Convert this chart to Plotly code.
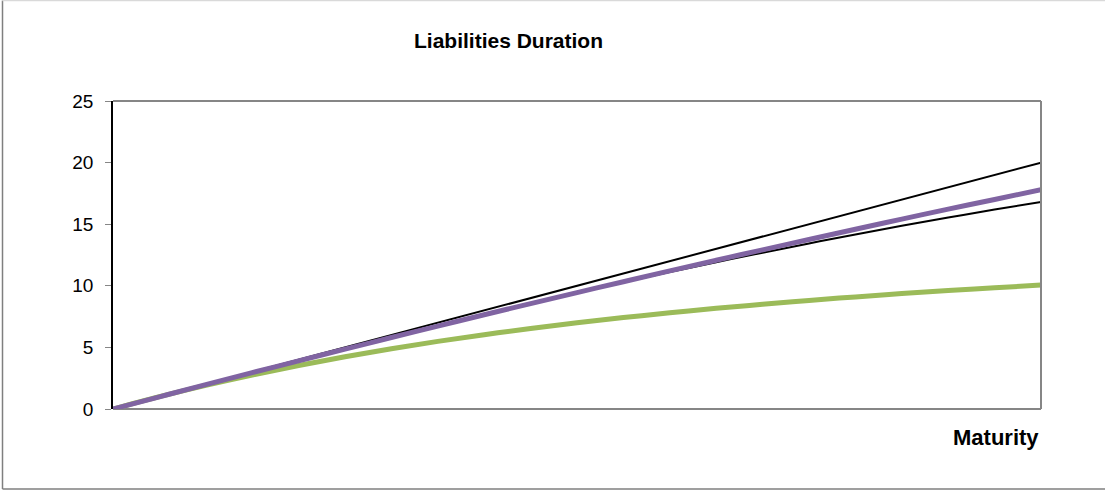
import plotly.graph_objects as go

maturity = list(range(0, 21))
zero_coupon = [0, 1, 2, 3, 4, 5, 6, 7, 8, 9, 10, 11, 12, 13, 14, 15, 16, 17, 18, 19, 20]
lower_black = [0, 1.0, 1.99, 2.97, 3.94, 4.9, 5.84, 6.77, 7.68, 8.57, 9.43, 10.28, 11.11, 11.91, 12.69, 13.44, 14.17, 14.87, 15.54, 16.19, 16.8]
purple = [0, 0.99, 1.98, 2.95, 3.91, 4.86, 5.8, 6.73, 7.65, 8.55, 9.45, 10.33, 11.21, 12.07, 12.92, 13.76, 14.59, 15.41, 16.22, 17.01, 17.8]
green = [0, 1.0, 1.92, 2.76, 3.53, 4.24, 4.89, 5.49, 6.03, 6.54, 7.0, 7.42, 7.81, 8.17, 8.5, 8.81, 9.1, 9.37, 9.61, 9.84, 10.06]
y_ticks = [0, 5, 10, 15, 20, 25]

W, H = 1105, 490
L, R, T, B = 113, 1041, 101, 409
pw, ph = R - L, B - T

def px(x):
    return (x - L) / pw

def py(y):
    return (B - y) / ph

FONT = "Liberation Sans, Arial, sans-serif"

fig = go.Figure()
fig.add_trace(go.Scatter(x=maturity, y=zero_coupon, mode="lines",
                         line=dict(color="#000000", width=2), showlegend=False))
fig.add_trace(go.Scatter(x=maturity, y=lower_black, mode="lines",
                         line=dict(color="#000000", width=2, shape="spline"), showlegend=False))
fig.add_trace(go.Scatter(x=maturity, y=green, mode="lines",
                         line=dict(color="#9BBB59", width=5, shape="spline"), showlegend=False))
fig.add_trace(go.Scatter(x=maturity, y=purple, mode="lines",
                         line=dict(color="#8064A2", width=5, shape="spline"), showlegend=False))

shapes = [
    dict(type="line", xref="paper", yref="paper", x0=0, x1=1, y0=1, y1=1,
         line=dict(color="#868686", width=2)),
    dict(type="line", xref="paper", yref="paper", x0=1, x1=1, y0=0, y1=1,
         line=dict(color="#868686", width=2)),
    dict(type="line", xref="paper", yref="paper", x0=0, x1=1, y0=0, y1=0,
         line=dict(color="#868686", width=2), layer="below"),
    # outer chart frame
    dict(type="line", xref="paper", yref="paper", x0=px(2.5), x1=px(2.5), y0=py(489), y1=py(0.5),
         line=dict(color="#7f7f7f", width=1.5)),
    dict(type="line", xref="paper", yref="paper", x0=px(2.5), x1=px(1105), y0=py(489), y1=py(489),
         line=dict(color="#7f7f7f", width=1.5)),
    dict(type="line", xref="paper", yref="paper", x0=px(2.5), x1=px(1105), y0=py(0.5), y1=py(0.5),
         line=dict(color="#d9d9d9", width=1.5)),
]

fig.update_layout(
    width=W, height=H,
    margin=dict(l=L, r=W - R, t=T, b=H - B),
    paper_bgcolor="white", plot_bgcolor="white",
    showlegend=False,
    font=dict(family=FONT, size=16, color="#000000"),
    xaxis=dict(range=[0, 20], showgrid=False, zeroline=False, showticklabels=False,
               ticks="", showline=False, fixedrange=True),
    yaxis=dict(range=[0, 25], tickvals=y_ticks, ticktext=[str(v) for v in y_ticks],
               showgrid=False, zeroline=False, showline=True, linecolor="#000000",
               linewidth=1.5, ticks="outside", ticklen=6, tickcolor="#868686",
               tickwidth=1, tickfont=dict(family=FONT, size=19), ticklabelstandoff=8),
    shapes=shapes,
    annotations=[
        dict(text="<b>Liabilities Duration</b>", xref="paper", yref="paper",
             x=px(508), y=py(40), xanchor="center", yanchor="middle", showarrow=False,
             font=dict(family=FONT, size=21)),
        dict(text="<b>Maturity</b>", xref="paper", yref="paper",
             x=px(1041), y=py(437), xanchor="right", yanchor="middle", showarrow=False,
             font=dict(family=FONT, size=22)),
    ],
)

fig.write_html("out.html",
               config={"displayModeBar": False},
               post_script="document.body.style.margin='0';document.body.style.padding='0';document.body.style.overflow='hidden';")
